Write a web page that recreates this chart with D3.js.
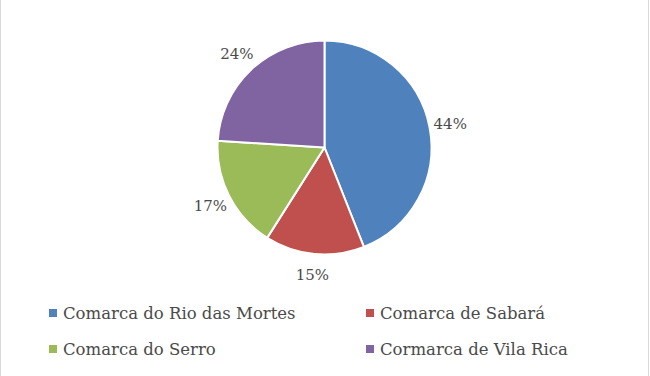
<!DOCTYPE html>
<html lang="pt">
<head>
  <meta charset="UTF-8">
  <title>Comarcas - pie</title>
  <script src="https://d3js.org/d3.v7.min.js"></script>
  <style>
    body { margin: 0; background: #fff; }
    svg { display: block; }
    .pct { font-family: "DejaVu Serif", serif; font-size: 15px; fill: #4a4a4a; }
    .legend text { font-family: "DejaVu Serif", serif; font-size: 16.5px; fill: #4a4a4a; }
  </style>
</head>
<body>
<div id="chart"></div>
<script>
  // values
  const categories = ["Comarca do Rio das Mortes", "Comarca de Sabará", "Comarca do Serro", "Cormarca de Vila Rica"];
  const shares = [44, 15, 17, 24];
  const colors = ["#4f81bd", "#c0504d", "#9bbb59", "#8064a2"];

  const width = 650, height = 376;
  const cx = 324.5, cy = 147.5, radius = 107;

  const svg = d3.select("#chart").append("svg")
    .attr("width", width)
    .attr("height", height);

  // thin grey frame (left and right edges visible)
  svg.append("rect")
    .attr("x", 0.5).attr("y", -2)
    .attr("width", 648).attr("height", height + 4)
    .attr("fill", "none")
    .attr("stroke", "#d9d9d9");

  const data = categories.map((c, i) => ({ name: c, value: shares[i], color: colors[i] }));

  const pie = d3.pie().value(d => d.value).sort(null);
  const arcs = pie(data);
  const arc = d3.arc().innerRadius(0).outerRadius(radius);
  const labelArc = d3.arc().innerRadius(radius + 21).outerRadius(radius + 21);

  const g = svg.append("g").attr("transform", `translate(${cx},${cy})`);

  g.selectAll("path")
    .data(arcs)
    .join("path")
      .attr("d", arc)
      .attr("fill", d => d.data.color)
      .attr("stroke", "#fff")
      .attr("stroke-width", 2)
      .attr("stroke-linejoin", "round");

  g.selectAll("text")
    .data(arcs)
    .join("text")
      .attr("class", "pct")
      .attr("transform", d => `translate(${labelArc.centroid(d)})`)
      .attr("text-anchor", "middle")
      .attr("dy", "0.35em")
      .text(d => d.data.value + "%");

  // legend, two columns
  const colX = [49, 366];
  const rowY = [313, 349];

  const legend = svg.append("g").attr("class", "legend")
    .selectAll("g")
    .data(data)
    .join("g")
      .attr("transform", (d, i) => `translate(${colX[i % 2]},${rowY[Math.floor(i / 2)]})`);

  legend.append("rect")
    .attr("x", 0).attr("y", -4)
    .attr("width", 8).attr("height", 8)
    .attr("fill", d => d.color);

  legend.append("text")
    .attr("x", 14)
    .attr("dy", "0.35em")
    .text(d => d.name);
</script>
</body>
</html>
